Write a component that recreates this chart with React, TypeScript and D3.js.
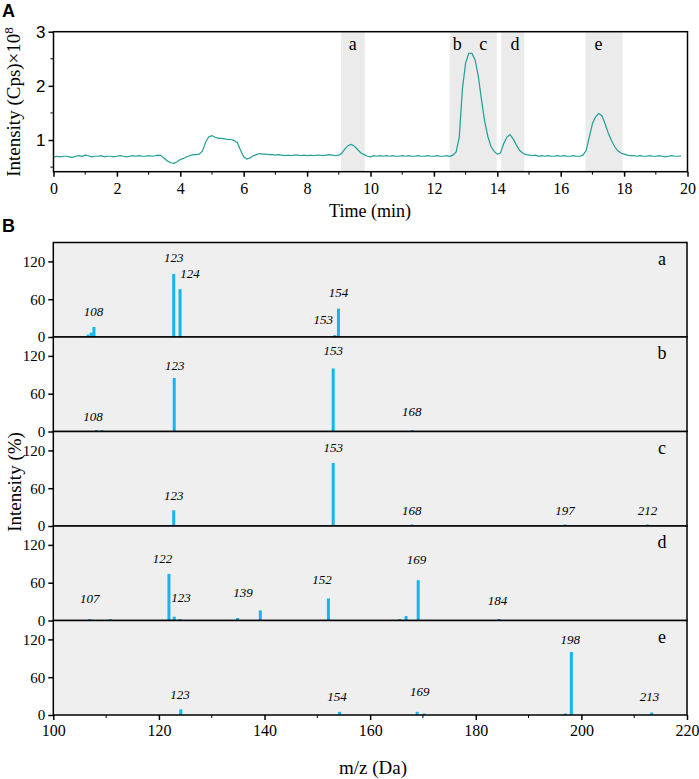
import { useRef, useEffect } from "react";
import * as d3 from "d3";

// ---- panel A: total ion chromatogram (sampled every 0.1 min) ----
const traceStep = 0.1;
const traceIntensity = [
  0.68, 0.70, 0.69, 0.70, 0.70, 0.69, 0.68, 0.70, 0.71, 0.70,
  0.72, 0.71, 0.69, 0.70, 0.70, 0.71, 0.69, 0.70, 0.70, 0.69,
  0.70, 0.71, 0.70, 0.69, 0.70, 0.71, 0.70, 0.71, 0.70, 0.70,
  0.71, 0.70, 0.71, 0.72, 0.71, 0.66, 0.61, 0.58, 0.57, 0.60,
  0.64, 0.66, 0.69, 0.71, 0.73, 0.73, 0.74, 0.80, 0.96, 1.06,
  1.08, 1.05, 1.03, 1.03, 1.02, 1.01, 1.01, 0.99, 0.95, 0.81,
  0.69, 0.65, 0.67, 0.71, 0.73, 0.75, 0.74, 0.74, 0.73, 0.73,
  0.72, 0.73, 0.72, 0.71, 0.72, 0.71, 0.72, 0.72, 0.71, 0.72,
  0.71, 0.72, 0.71, 0.72, 0.72, 0.71, 0.72, 0.73, 0.72, 0.71,
  0.72, 0.76, 0.84, 0.90, 0.92, 0.88, 0.82, 0.76, 0.73, 0.70,
  0.69, 0.71, 0.70, 0.71, 0.70, 0.71, 0.70, 0.71, 0.70, 0.70,
  0.71, 0.70, 0.71, 0.70, 0.70, 0.71, 0.70, 0.70, 0.71, 0.70,
  0.70, 0.71, 0.70, 0.70, 0.71, 0.70, 0.72, 0.78, 1.05, 1.95,
  2.42, 2.60, 2.60, 2.48, 2.18, 1.75, 1.35, 1.07, 0.88, 0.79,
  0.74, 0.76, 0.93, 1.05, 1.10, 1.02, 0.91, 0.81, 0.76, 0.73,
  0.72, 0.71, 0.72, 0.70, 0.71, 0.70, 0.71, 0.70, 0.70, 0.71,
  0.70, 0.71, 0.70, 0.70, 0.71, 0.70, 0.70, 0.72, 0.80, 1.05,
  1.30, 1.43, 1.49, 1.45, 1.30, 1.13, 0.99, 0.88, 0.80, 0.76,
  0.74, 0.72, 0.71, 0.71, 0.70, 0.71, 0.70, 0.70, 0.71, 0.70,
  0.70, 0.71, 0.70, 0.69, 0.70, 0.71, 0.70, 0.70, 0.71,
];

// shaded retention windows [start, end] in min
const regions = [
  [9.07, 9.82],
  [12.5, 13.98],
  [14.12, 14.85],
  [16.78, 17.95],
];
const regionLabels = [
  { text: "a", t: 9.44 },
  { text: "b", t: 12.74 },
  { text: "c", t: 13.56 },
  { text: "d", t: 14.56 },
  { text: "e", t: 17.19 },
];

// ---- panel B: MS spectra [m/z, relative intensity %] ----
const spectrumA = [[106.6, 4], [107.2, 7], [107.7, 16], [122.8, 100], [124.0, 76], [153.3, 3], [154.0, 45]];
const spectrumB = [[108.2, 1], [109.2, 1], [122.9, 85], [153.0, 100], [168.0, 1]];
const spectrumC = [[122.8, 25], [153.0, 100], [167.9, 1], [196.9, 1], [212.5, 1]];
const spectrumD = [
  [106.9, 1.5], [110.8, 1.5], [121.9, 74], [122.9, 6], [124.0, 1.5], [134.9, 4], [139.2, 16],
  [152.1, 35], [165.6, 1.5], [166.8, 7], [169.1, 64], [184.4, 2],
];
const spectrumE = [[124.15, 9], [154.2, 5], [168.9, 5], [170.2, 1], [197.0, 1], [198.1, 100], [213.3, 4]];

// peak annotations: [text, m/z, intensity at text baseline]
const labelsA = [["108", 107.6, 34], ["123", 122.8, 119], ["124", 125.9, 94], ["153", 151.1, 21], ["154", 154.0, 63]];
const labelsB = [["108", 107.5, 17], ["123", 123.0, 97], ["153", 153.0, 121], ["168", 167.9, 25]];
const labelsC = [["123", 122.8, 41], ["153", 153.0, 117], ["168", 167.9, 17], ["197", 196.9, 17], ["212", 212.5, 17]];
const labelsD = [
  ["107", 106.9, 28], ["122", 120.7, 92], ["123", 124.2, 30], ["139", 135.9, 37],
  ["152", 150.9, 58], ["169", 168.8, 89], ["184", 184.1, 24],
];
const labelsE = [["123", 124.0, 26], ["154", 153.7, 22], ["169", 169.4, 30], ["198", 197.9, 112], ["213", 212.9, 22]];

const spectra = [
  { name: "a", peaks: spectrumA, labels: labelsA },
  { name: "b", peaks: spectrumB, labels: labelsB },
  { name: "c", peaks: spectrumC, labels: labelsC },
  { name: "d", peaks: spectrumD, labels: labelsD },
  { name: "e", peaks: spectrumE, labels: labelsE },
];

const serif = "'Liberation Serif', 'Times New Roman', serif";
const sans = "'Liberation Sans', Arial, sans-serif";

export default function App() {
  const svgRef = useRef(null);

  useEffect(() => {
    const svg = d3.select(svgRef.current);
    svg.selectAll("*").remove();

    // ================= Panel A =================
    const ax = { left: 53.5, right: 687.5, top: 31.7, bottom: 171.7 };
    const x = d3.scaleLinear().domain([0, 20]).range([ax.left, ax.right]);
    const y = d3.scaleLinear().domain([0.415, 3]).range([ax.bottom, ax.top]);

    const gA = svg.append("g");
    gA.selectAll(".region")
      .data(regions)
      .join("rect")
      .attr("x", (d) => x(d[0]))
      .attr("width", (d) => x(d[1]) - x(d[0]))
      .attr("y", ax.top)
      .attr("height", ax.bottom - ax.top)
      .attr("fill", "#ebebeb");

    gA.selectAll(".rlab")
      .data(regionLabels)
      .join("text")
      .attr("x", (d) => x(d.t))
      .attr("y", 50)
      .attr("text-anchor", "middle")
      .style("font-family", serif)
      .style("font-size", "18px")
      .text((d) => d.text);

    const line = d3
      .line()
      .x((d, i) => x(i * traceStep))
      .y((d) => y(d));
    gA.append("path")
      .datum(traceIntensity)
      .attr("d", line)
      .attr("fill", "none")
      .attr("stroke", "#1f9f96")
      .attr("stroke-width", 1.2);

    gA.append("rect")
      .attr("x", ax.left)
      .attr("y", ax.top)
      .attr("width", ax.right - ax.left)
      .attr("height", ax.bottom - ax.top)
      .attr("fill", "none")
      .attr("stroke", "#000")
      .attr("stroke-width", 1.5);

    // x axis A
    const xAxisA = gA.append("g").attr("transform", `translate(0,${ax.bottom})`);
    xAxisA
      .call(d3.axisBottom(x).tickValues(d3.range(0, 21, 2)).tickSize(5).tickSizeOuter(0).tickPadding(6))
      .call((g) => g.select(".domain").remove());
    xAxisA.selectAll("text").style("font-family", serif).style("font-size", "16px");
    xAxisA
      .selectAll(".minor")
      .data(d3.range(1, 20, 2))
      .join("line")
      .attr("x1", (d) => x(d))
      .attr("x2", (d) => x(d))
      .attr("y1", 0)
      .attr("y2", 3)
      .attr("stroke", "#000");

    // y axis A
    const yAxisA = gA.append("g").attr("transform", `translate(${ax.left},0)`);
    yAxisA
      .call(d3.axisLeft(y).tickValues([1, 2, 3]).tickFormat(d3.format("d")).tickSize(5).tickPadding(3))
      .call((g) => g.select(".domain").remove());
    yAxisA.selectAll("text").style("font-family", sans).style("font-size", "17px");
    yAxisA
      .selectAll(".minor")
      .data([0.5, 1.5, 2.5])
      .join("line")
      .attr("x1", 0)
      .attr("x2", -3)
      .attr("y1", (d) => y(d))
      .attr("y2", (d) => y(d))
      .attr("stroke", "#000");
    svg.selectAll(".tick line").attr("stroke-width", 1.5);

    const yLabA = gA.append("text")
      .attr("transform", "translate(20,102) rotate(-90)")
      .attr("text-anchor", "middle")
      .style("font-family", serif)
      .style("font-size", "19px");
    yLabA.append("tspan").text("Intensity (Cps)×10");
    yLabA.append("tspan").attr("dy", -7).style("font-size", "13px").text("8");

    gA.append("text")
      .attr("x", 370)
      .attr("y", 217)
      .attr("text-anchor", "middle")
      .style("font-family", serif)
      .style("font-size", "18px")
      .text("Time (min)");

    svg.append("text")
      .attr("x", 2)
      .attr("y", 17)
      .style("font-family", sans)
      .style("font-weight", "bold")
      .style("font-size", "18px")
      .text("A");

    // ================= Panel B =================
    const bx = { left: 53.3, right: 687, top: 242.5, panelH: 94.5 };
    const xm = d3.scaleLinear().domain([100, 220]).range([bx.left, bx.right]);
    const gB = svg.append("g");

    spectra.forEach((s, i) => {
      const top = bx.top + i * bx.panelH;
      const base = top + bx.panelH;
      const ym = d3.scaleLinear().domain([0, 150]).range([base, top]);
      const g = gB.append("g");

      g.append("rect")
        .attr("x", bx.left)
        .attr("y", top)
        .attr("width", bx.right - bx.left)
        .attr("height", bx.panelH)
        .attr("fill", "#efefef");

      g.selectAll(".bar")
        .data(s.peaks)
        .join("rect")
        .attr("x", (d) => xm(d[0]) - 1.5)
        .attr("width", 3)
        .attr("y", (d) => Math.min(ym(d[1]), base - 1.5))
        .attr("height", (d) => Math.max(base - ym(d[1]), 1.5))
        .attr("fill", "#16b4f3");

      g.selectAll(".plab")
        .data(s.labels)
        .join("text")
        .attr("x", (d) => xm(d[1]))
        .attr("y", (d) => ym(d[2]))
        .attr("text-anchor", "middle")
        .style("font-family", serif)
        .style("font-style", "italic")
        .style("font-size", "13px")
        .text((d) => d[0]);

      g.append("text")
        .attr("x", 662)
        .attr("y", top + 22)
        .attr("text-anchor", "middle")
        .style("font-family", serif)
        .style("font-size", "18px")
        .text(s.name);

      g.append("rect")
        .attr("x", bx.left)
        .attr("y", top)
        .attr("width", bx.right - bx.left)
        .attr("height", bx.panelH)
        .attr("fill", "none")
        .attr("stroke", "#000")
        .attr("stroke-width", 1.5);

      const yAx = g.append("g").attr("transform", `translate(${bx.left},0)`);
      yAx
        .call(d3.axisLeft(ym).tickValues([0, 60, 120]).tickSize(5).tickPadding(3))
        .call((gg) => gg.select(".domain").remove());
      yAx.selectAll("text").style("font-family", serif).style("font-size", "15px");
      yAx.selectAll(".tick line").attr("stroke-width", 1.5);
    });

    const baseB = bx.top + 5 * bx.panelH;
    const xAxisB = gB.append("g").attr("transform", `translate(0,${baseB})`);
    xAxisB
      .call(d3.axisBottom(xm).tickValues(d3.range(100, 221, 20)).tickSize(5).tickSizeOuter(0).tickPadding(5))
      .call((g) => g.select(".domain").remove());
    xAxisB.selectAll("text").style("font-family", serif).style("font-size", "16px");
    xAxisB.selectAll(".tick line").attr("stroke-width", 1.5);
    xAxisB
      .selectAll(".minor")
      .data(d3.range(110, 220, 20))
      .join("line")
      .attr("x1", (d) => xm(d))
      .attr("x2", (d) => xm(d))
      .attr("y1", 0)
      .attr("y2", 3)
      .attr("stroke", "#000");

    gB.append("text")
      .attr("transform", "translate(21,482) rotate(-90)")
      .attr("text-anchor", "middle")
      .style("font-family", serif)
      .style("font-size", "19px")
      .text("Intensity (%)");

    gB.append("text")
      .attr("x", 373)
      .attr("y", 774)
      .attr("text-anchor", "middle")
      .style("font-family", serif)
      .style("font-size", "19px")
      .text("m/z (Da)");

    svg.append("text")
      .attr("x", 2)
      .attr("y", 232)
      .style("font-family", sans)
      .style("font-weight", "bold")
      .style("font-size", "18px")
      .text("B");
  }, []);

  return (
    <svg
      ref={svgRef}
      width={699}
      height={779}
      style={{ position: "absolute", left: 0, top: 0, background: "#fff" }}
    />
  );
}
